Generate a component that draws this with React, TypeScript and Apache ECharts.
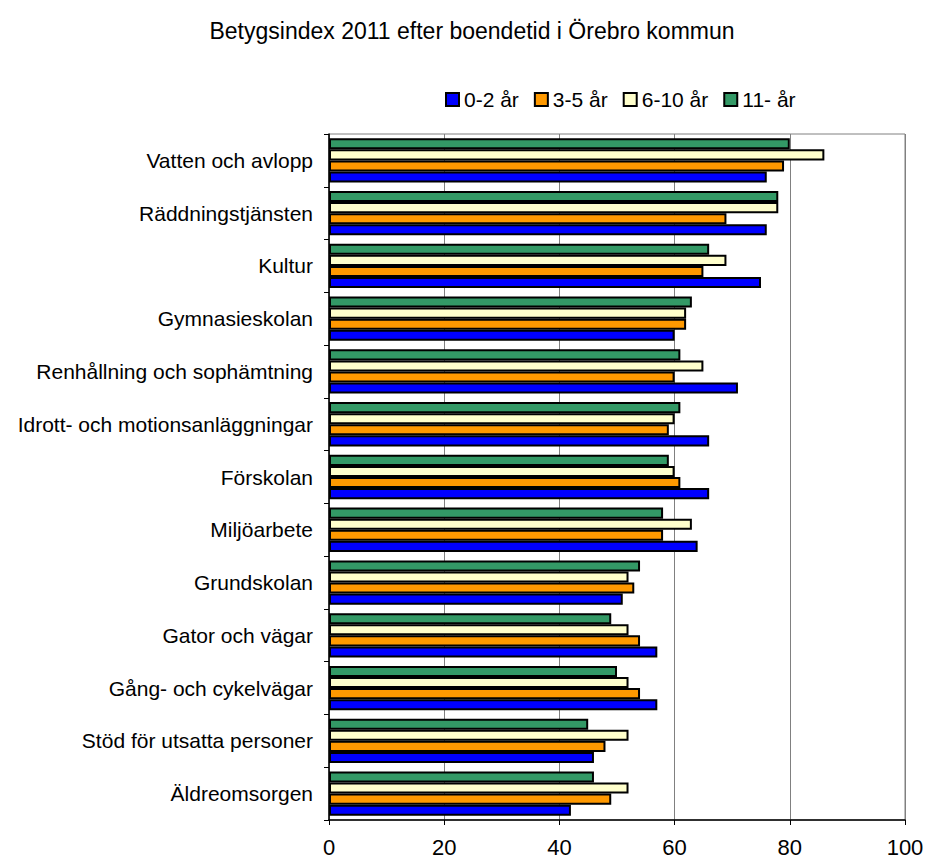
import React, { useEffect, useRef } from "react";
import * as echarts from "echarts";

// Categories, top to bottom as shown
const categories = [
  "Vatten och avlopp",
  "Räddningstjänsten",
  "Kultur",
  "Gymnasieskolan",
  "Renhållning och sophämtning",
  "Idrott- och motionsanläggningar",
  "Förskolan",
  "Miljöarbete",
  "Grundskolan",
  "Gator och vägar",
  "Gång- och cykelvägar",
  "Stöd för utsatta personer",
  "Äldreomsorgen",
];

const seriesNames = ["0-2 år", "3-5 år", "6-10 år", "11- år"];
const colors = ["#0000FF", "#FF9900", "#FFFFCC", "#339966"];

// values, same order as categories
const v0_2 = [76, 76, 75, 60, 71, 66, 66, 64, 51, 57, 57, 46, 42];
const v3_5 = [79, 69, 65, 62, 60, 59, 61, 58, 53, 54, 54, 48, 49];
const v6_10 = [86, 78, 69, 62, 65, 60, 60, 63, 52, 52, 52, 52, 52];
const v11 = [80, 78, 66, 63, 61, 61, 59, 58, 54, 49, 50, 45, 46];

const xTicks = [0, 20, 40, 60, 80, 100];

export default function App() {
  const ref = useRef<HTMLDivElement>(null);
  useEffect(() => {
    document.body.style.margin = "0";
    const chart = echarts.init(ref.current!, null, { renderer: "svg" });
    const allValues = [v0_2, v3_5, v6_10, v11];
    const font = "Arial, 'Liberation Sans', sans-serif";
    // series drawn top-to-bottom within a band: 11- år first, 0-2 år last
    const order = [3, 2, 1, 0];
    chart.setOption({
      animation: false,
      backgroundColor: "#ffffff",
      textStyle: { fontFamily: font },
      title: {
        text: "Betygsindex 2011 efter boendetid i Örebro kommun",
        left: 467,
        textAlign: "center",
        top: 14,
        textStyle: { fontSize: 23, fontWeight: "normal", color: "#000", fontFamily: font },
      },
      legend: {
        left: 440,
        top: 84,
        itemWidth: 13,
        itemHeight: 13,
        itemGap: 15,
        icon: "rect",
        textStyle: { fontSize: 21, color: "#000", fontFamily: font },
        data: seriesNames.map((n, i) => ({
          name: n,
          itemStyle: { color: colors[i], borderColor: "#000", borderWidth: 2 },
        })),
      },
      grid: {
        left: 329,
        right: 23,
        top: 134,
        bottom: 46,
        show: true,
        borderColor: "#808080",
        borderWidth: 1,
        backgroundColor: "transparent",
      },
      xAxis: {
        type: "value",
        min: xTicks[0],
        max: xTicks[xTicks.length - 1],
        interval: 20,
        axisLine: { show: true, lineStyle: { color: "#000", width: 1.5 } },
        axisTick: { show: true, length: 5, lineStyle: { color: "#000" } },
        axisLabel: { fontSize: 22, color: "#000", margin: 16, fontFamily: font },
        splitLine: { show: true, lineStyle: { color: "#808080", width: 1 } },
      },
      yAxis: {
        type: "category",
        data: [...categories].reverse(),
        axisLine: { show: true, lineStyle: { color: "#000", width: 1.5 } },
        axisTick: { show: true, length: 5, lineStyle: { color: "#000" } },
        axisLabel: { fontSize: 21, color: "#000", margin: 16, fontFamily: font },
        splitLine: { show: false },
      },
      series: order.map((i) => ({
        name: seriesNames[i],
        type: "bar",
        data: [...allValues[i]].reverse(),
        barGap: "0%",
        barCategoryGap: "16%",
        itemStyle: { color: colors[i], borderColor: "#000", borderWidth: 2 },
      })),
    });
    return () => chart.dispose();
  }, []);
  return <div ref={ref} style={{ width: 928, height: 866 }} />;
}
